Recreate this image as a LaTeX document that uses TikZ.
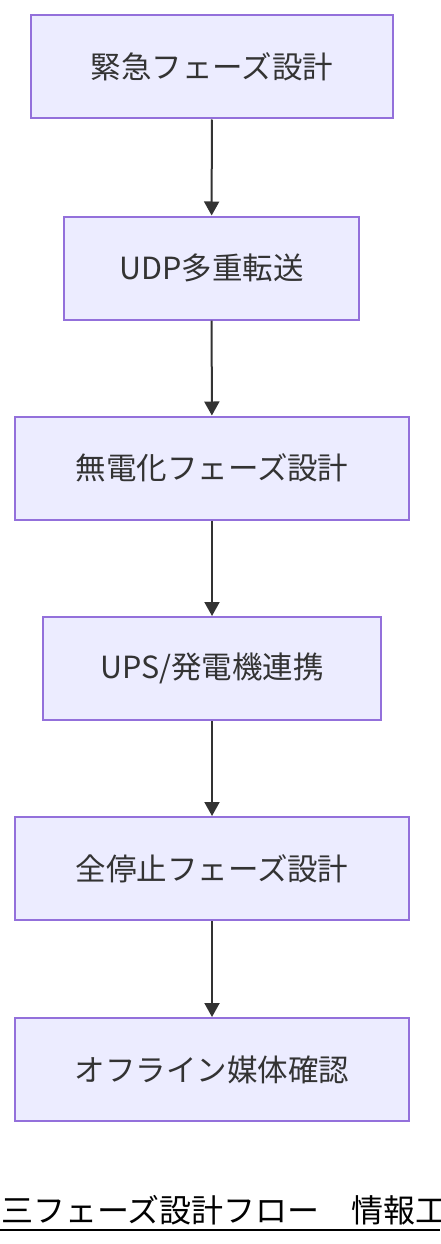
\documentclass[tikz,border=0pt]{standalone}
\usepackage{fontspec}
\usepackage{tikz}
\usetikzlibrary{arrows.meta}
\newfontfamily\jpfont{Noto Sans CJK JP}
\definecolor{boxfill}{HTML}{ECECFF}
\definecolor{boxline}{HTML}{9370DB}
\definecolor{ink}{HTML}{333333}
\tikzset{
  phasebox/.style={draw=boxline,fill=boxfill,line width=2pt,text=ink,
    minimum height=103pt,inner sep=0pt,font=\jpfont\fontsize{30.5}{36}\selectfont},
  flowarrow/.style={draw=ink,line width=2pt,-{Triangle[length=14pt,width=15pt]}}
}
\def\phasenode{\node[phasebox]}
\def\drawflow{\draw[flowarrow]}

\begin{document}
\begin{tikzpicture}[x=1pt,y=-1pt]
\useasboundingbox (0,0) rectangle (440,1244);
\phasenode[minimum width=362pt] (emergency) at (212,67) {緊急フェーズ設計};
\phasenode[minimum width=295pt] (udp) at (211.5,268) {UDP多重転送};
\phasenode[minimum width=394pt] (blackout) at (212,468) {無電化フェーズ設計};
\phasenode[minimum width=338pt] (ups) at (212,668.5) {UPS/発電機連携};
\phasenode[minimum width=394pt] (shutdown) at (212,868.5) {全停止フェーズ設計};
\phasenode[minimum width=394pt] (offline) at (212,1069.5) {オフライン媒体確認};
\drawflow (emergency) -- (udp);
\drawflow (udp) -- (blackout);
\drawflow (blackout) -- (ups);
\drawflow (ups) -- (shutdown);
\drawflow (shutdown) -- (offline);
% caption, cut off at the right edge
\node[anchor=base west,inner sep=0pt,font=\jpfont\fontsize{32}{38}\selectfont] (caption) at (1,1222) {三フェーズ設計フロー　情報工};
\coordinate (ruleL) at (0,1230);
\coordinate (ruleR) at (440,1230);
\draw[line width=2pt] (ruleL) -- (ruleR);
\end{tikzpicture}
\end{document}
